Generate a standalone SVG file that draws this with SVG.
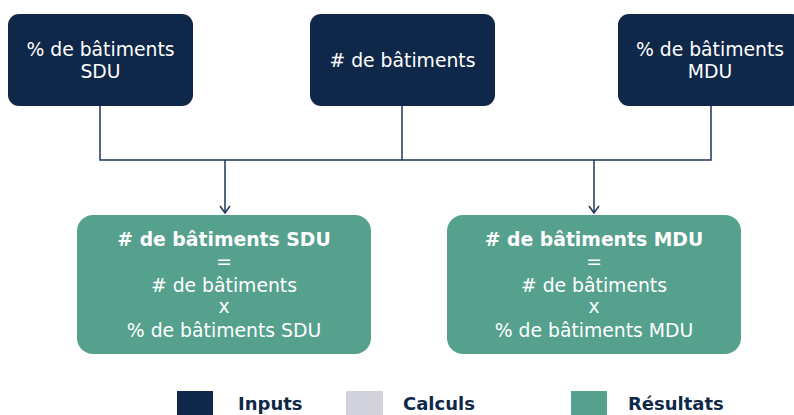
<svg xmlns="http://www.w3.org/2000/svg" width="794" height="415" viewBox="0 0 794 415">
<defs>
<style>
.inp{fill:#0f2748}
.res{fill:#55a18e}
.t{font-family:"DejaVu Sans",Verdana,sans-serif;font-size:18.8px;fill:#ffffff;text-anchor:middle}
.b{font-weight:bold}
.c{fill:none;stroke:#1c3558;stroke-width:1.5}
.lg{font-family:"DejaVu Sans",Verdana,sans-serif;font-size:18px;font-weight:bold;fill:#0f2748}
</style>
<marker id="arr" viewBox="0 0 12 12" refX="11" refY="6" markerWidth="12" markerHeight="12" markerUnits="userSpaceOnUse" orient="auto">
<path d="M4,1 L11,6 L4,11" fill="none" stroke="#1c3558" stroke-width="1.5"/>
</marker>
</defs>
<rect width="794" height="415" fill="#ffffff"/>
<g id="connectors">
<path class="c" d="M100,105 V160 H711 V105"/>
<path class="c" d="M402,105 V160"/>
<path class="c" d="M225,160 V213" marker-end="url(#arr)"/>
<path class="c" d="M594,160 V213" marker-end="url(#arr)"/>
</g>
<g id="pct-sdu">
<rect class="inp" x="8" y="14" width="185" height="92" rx="11"/>
<text class="t" x="100.5" y="56">% de bâtiments</text>
<text class="t" x="100.5" y="78">SDU</text>
</g>
<g id="nb-batiments">
<rect class="inp" x="310" y="14" width="185" height="92" rx="11"/>
<text class="t" x="402.5" y="67"># de bâtiments</text>
</g>
<g id="pct-mdu">
<rect class="inp" x="618" y="14" width="185" height="92" rx="11"/>
<text class="t" x="710" y="56">% de bâtiments</text>
<text class="t" x="710" y="78">MDU</text>
</g>
<g id="res-sdu">
<rect class="res" x="77" y="215" width="294" height="139" rx="16"/>
<text class="t b" x="224" y="246"># de bâtiments SDU</text>
<text class="t" x="224" y="268">=</text>
<text class="t" x="224" y="292"># de bâtiments</text>
<text class="t" x="224" y="313">x</text>
<text class="t" x="224" y="337">% de bâtiments SDU</text>
</g>
<g id="res-mdu">
<rect class="res" x="447" y="215" width="294" height="139" rx="16"/>
<text class="t b" x="594" y="246"># de bâtiments MDU</text>
<text class="t" x="594" y="268">=</text>
<text class="t" x="594" y="292"># de bâtiments</text>
<text class="t" x="594" y="313">x</text>
<text class="t" x="594" y="337">% de bâtiments MDU</text>
</g>
<g id="legend">
<rect x="177" y="391" width="36" height="30" fill="#0f2748"/>
<text class="lg" x="238" y="410">Inputs</text>
<rect x="346" y="391" width="37" height="30" fill="#d2d2dc"/>
<text class="lg" x="403" y="410">Calculs</text>
<rect x="571" y="391" width="36" height="30" fill="#55a18e"/>
<text class="lg" x="628" y="410">Résultats</text>
</g>
</svg>
